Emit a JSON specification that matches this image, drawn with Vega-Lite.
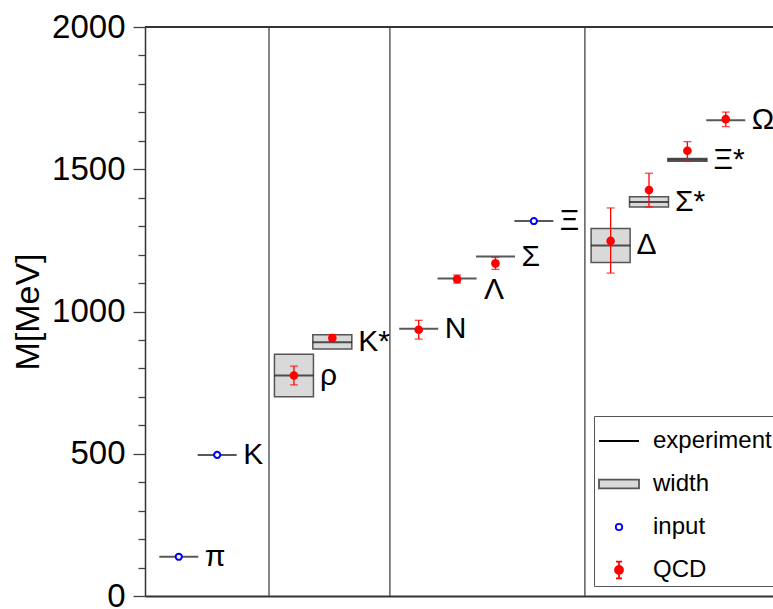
{
  "$schema": "https://vega.github.io/schema/vega-lite/v6.json",
  "width": 628,
  "height": 569,
  "autosize": {"type": "none"},
  "padding": {"left": 145, "top": 27, "right": 0, "bottom": 13},
  "background": "white",
  "config": {
    "view": {"stroke": null},
    "font": "Liberation Sans",
    "axisX": {"labels": false, "ticks": false, "grid": false, "domainColor": "#333333", "domainWidth": 2, "orient": "bottom"},
    "axisY": {
      "grid": false,
      "labelExpr": "datum.value % 500 === 0 ? datum.label : ''",
      "tickSize": {"condition": {"test": "datum.value % 500 === 0", "value": 12}, "value": 7},
      "tickColor": "#444444", "tickWidth": 1.3,
      "domainColor": "#333333", "domainWidth": 1.5,
      "labelFont": "Liberation Sans", "labelFontSize": 33, "labelColor": "black", "labelPadding": 8,
      "labelOverlap": false,
      "titleFont": "Liberation Sans", "titleFontSize": 34, "titleFontWeight": "normal", "titleColor": "black", "titlePadding": 6
    }
  },
  "datasets": {
    "particles": [
      {"name": "π", "x": 0.75, "exp": 138, "input": true},
      {"name": "K", "x": 1.75, "exp": 496, "input": true},
      {"name": "ρ", "x": 3.75, "exp": 775, "wlo": 700, "whi": 850, "qcd": 775, "qlo": 742, "qhi": 808},
      {"name": "K*", "x": 4.75, "exp": 892, "wlo": 868, "whi": 918, "qcd": 907, "qlo": 895, "qhi": 919},
      {"name": "N", "x": 7, "exp": 939, "qcd": 936, "qlo": 903, "qhi": 969},
      {"name": "Λ", "x": 8, "exp": 1116, "qcd": 1114, "qlo": 1100, "qhi": 1128},
      {"name": "Σ", "x": 9, "exp": 1193, "qcd": 1169, "qlo": 1148, "qhi": 1190},
      {"name": "Ξ", "x": 10, "exp": 1318, "input": true},
      {"name": "Δ", "x": 12, "exp": 1232, "wlo": 1172, "whi": 1292, "qcd": 1248, "qlo": 1135, "qhi": 1364},
      {"name": "Σ*", "x": 13, "exp": 1385, "wlo": 1367, "whi": 1403, "qcd": 1427, "qlo": 1368, "qhi": 1486},
      {"name": "Ξ*", "x": 14, "exp": 1533, "wlo": 1528, "whi": 1538, "qcd": 1565, "qlo": 1533, "qhi": 1597},
      {"name": "Ω", "x": 15, "exp": 1672, "qcd": 1676, "qlo": 1650, "qhi": 1701}
    ],
    "dividers": [{"pos": 3.1}, {"pos": 6.25}, {"pos": 11.33}],
    "legend": [{"kind": "experiment"}, {"kind": "width"}, {"kind": "input"}, {"kind": "QCD"}]
  },
  "layer": [
    {
      "data": {"name": "dividers"},
      "mark": {"type": "rule", "color": "#444444", "strokeWidth": 1.3},
      "encoding": {
        "x": {"field": "pos", "type": "quantitative", "title": null,
          "scale": {"domain": [0, 16.1], "nice": false, "zero": false}}
      }
    },
    {
      "data": {"name": "dividers"},
      "mark": {"type": "rule", "color": "#333333", "strokeWidth": 1.5},
      "encoding": {
        "y": {"datum": 2000, "type": "quantitative", "title": "M[MeV]",
          "scale": {"domain": [0, 2000], "nice": false, "zero": false},
          "axis": {"values": [0,100,200,300,400,500,600,700,800,900,1000,1100,1200,1300,1400,1500,1600,1700,1800,1900,2000], "format": "d"}}
      }
    },
    {
      "data": {"name": "particles"},
      "transform": [{"filter": "isValid(datum.wlo)"}],
      "mark": {"type": "bar", "orient": "vertical", "width": 39, "fill": "#d9d9d9", "stroke": "#555555", "strokeWidth": 1.5},
      "encoding": {
        "x": {"field": "x", "type": "quantitative", "title": null},
        "y": {"field": "wlo", "type": "quantitative", "title": "M[MeV]",
          "axis": {"values": [0,100,200,300,400,500,600,700,800,900,1000,1100,1200,1300,1400,1500,1600,1700,1800,1900,2000], "format": "d"}},
        "y2": {"field": "whi"}
      }
    },
    {
      "data": {"name": "particles"},
      "mark": {"type": "tick", "orient": "horizontal", "size": 39, "thickness": 2, "color": "#111111"},
      "encoding": {
        "x": {"field": "x", "type": "quantitative", "title": null},
        "y": {"field": "exp", "type": "quantitative", "title": "M[MeV]",
          "axis": {"values": [0,100,200,300,400,500,600,700,800,900,1000,1100,1200,1300,1400,1500,1600,1700,1800,1900,2000], "format": "d"}}
      }
    },
    {
      "data": {"name": "particles"},
      "transform": [{"filter": "isValid(datum.qcd)"}],
      "mark": {"type": "rule", "color": "red", "strokeWidth": 1.3},
      "encoding": {
        "x": {"field": "x", "type": "quantitative", "title": null},
        "y": {"field": "qlo", "type": "quantitative", "title": "M[MeV]",
          "axis": {"values": [0,100,200,300,400,500,600,700,800,900,1000,1100,1200,1300,1400,1500,1600,1700,1800,1900,2000], "format": "d"}},
        "y2": {"field": "qhi"}
      }
    },
    {
      "data": {"name": "particles"},
      "transform": [{"filter": "isValid(datum.qcd)"}],
      "mark": {"type": "tick", "orient": "horizontal", "size": 8, "thickness": 1.3, "color": "red"},
      "encoding": {
        "x": {"field": "x", "type": "quantitative", "title": null},
        "y": {"field": "qlo", "type": "quantitative", "title": "M[MeV]",
          "axis": {"values": [0,100,200,300,400,500,600,700,800,900,1000,1100,1200,1300,1400,1500,1600,1700,1800,1900,2000], "format": "d"}}
      }
    },
    {
      "data": {"name": "particles"},
      "transform": [{"filter": "isValid(datum.qcd)"}],
      "mark": {"type": "tick", "orient": "horizontal", "size": 8, "thickness": 1.3, "color": "red"},
      "encoding": {
        "x": {"field": "x", "type": "quantitative", "title": null},
        "y": {"field": "qhi", "type": "quantitative", "title": "M[MeV]",
          "axis": {"values": [0,100,200,300,400,500,600,700,800,900,1000,1100,1200,1300,1400,1500,1600,1700,1800,1900,2000], "format": "d"}}
      }
    },
    {
      "data": {"name": "particles"},
      "transform": [{"filter": "isValid(datum.qcd)"}],
      "mark": {"type": "point", "shape": "circle", "filled": true, "color": "red", "size": 75, "opacity": 1},
      "encoding": {
        "x": {"field": "x", "type": "quantitative", "title": null},
        "y": {"field": "qcd", "type": "quantitative", "title": "M[MeV]",
          "axis": {"values": [0,100,200,300,400,500,600,700,800,900,1000,1100,1200,1300,1400,1500,1600,1700,1800,1900,2000], "format": "d"}}
      }
    },
    {
      "data": {"name": "particles"},
      "transform": [{"filter": "datum.input === true"}],
      "mark": {"type": "point", "shape": "circle", "filled": false, "stroke": "blue", "fill": "white", "strokeWidth": 2, "size": 38, "opacity": 1},
      "encoding": {
        "x": {"field": "x", "type": "quantitative", "title": null},
        "y": {"field": "exp", "type": "quantitative", "title": "M[MeV]",
          "axis": {"values": [0,100,200,300,400,500,600,700,800,900,1000,1100,1200,1300,1400,1500,1600,1700,1800,1900,2000], "format": "d"}}
      }
    },
    {
      "data": {"name": "particles"},
      "transform": [{"filter": "datum.name !== 'Λ'"}],
      "mark": {"type": "text", "align": "left", "baseline": "middle", "dx": 26, "font": "Liberation Sans", "fontSize": 30, "color": "black"},
      "encoding": {
        "x": {"field": "x", "type": "quantitative", "title": null},
        "y": {"field": "exp", "type": "quantitative", "title": "M[MeV]",
          "axis": {"values": [0,100,200,300,400,500,600,700,800,900,1000,1100,1200,1300,1400,1500,1600,1700,1800,1900,2000], "format": "d"}},
        "text": {"field": "name"}
      }
    },
    {
      "data": {"name": "particles"},
      "transform": [{"filter": "datum.name === 'Λ'"}],
      "mark": {"type": "text", "align": "left", "baseline": "middle", "dx": 27, "dy": 12, "font": "Liberation Sans", "fontSize": 30, "color": "black"},
      "encoding": {
        "x": {"field": "x", "type": "quantitative", "title": null},
        "y": {"field": "exp", "type": "quantitative", "title": "M[MeV]",
          "axis": {"values": [0,100,200,300,400,500,600,700,800,900,1000,1100,1200,1300,1400,1500,1600,1700,1800,1900,2000], "format": "d"}},
        "text": {"field": "name"}
      }
    },
    {
      "data": {"name": "legend"},
      "mark": {"type": "point", "clip": true, "filled": true, "strokeWidth": 1.8, "opacity": 1},
      "encoding": {
        "x": {"datum": 1, "type": "quantitative", "title": null},
        "y": {"datum": -1000, "type": "quantitative", "title": "M[MeV]",
          "axis": {"values": [0,100,200,300,400,500,600,700,800,900,1000,1100,1200,1300,1400,1500,1600,1700,1800,1900,2000], "format": "d"}},
        "shape": {"field": "kind", "type": "nominal",
          "scale": {"domain": ["experiment", "width", "input", "QCD"],
            "range": ["M-1,0H1", "M-1,-0.22H1V0.22H-1Z", "M-0.16,0A0.16,0.16 0 1,0 0.16,0A0.16,0.16 0 1,0 -0.16,0Z", "M-0.2,0A0.2,0.2 0 1,0 0.2,0A0.2,0.2 0 1,0 -0.2,0Z M0,-0.42V0.42 M-0.15,-0.42H0.15 M-0.15,0.42H0.15"]},
          "legend": {"title": null, "orient": "none", "legendX": 449, "legendY": 389, "padding": 4, "rowPadding": 10,
            "strokeColor": "#555555", "fillColor": "white", "symbolSize": 1600, "symbolStrokeWidth": 1.8,
            "labelFont": "Liberation Sans", "labelFontSize": 24, "labelColor": "black", "labelOffset": 13, "labelLimit": 300}},
        "fill": {"field": "kind", "type": "nominal",
          "scale": {"domain": ["experiment", "width", "input", "QCD"], "range": ["transparent", "#d9d9d9", "white", "red"]},
          "legend": {"title": null, "orient": "none", "legendX": 449, "legendY": 389, "padding": 4, "rowPadding": 10,
            "strokeColor": "#555555", "fillColor": "white", "symbolSize": 1600, "symbolStrokeWidth": 1.8,
            "labelFont": "Liberation Sans", "labelFontSize": 24, "labelColor": "black", "labelOffset": 13, "labelLimit": 300}},
        "stroke": {"field": "kind", "type": "nominal",
          "scale": {"domain": ["experiment", "width", "input", "QCD"], "range": ["black", "#555555", "blue", "red"]},
          "legend": {"title": null, "orient": "none", "legendX": 449, "legendY": 389, "padding": 4, "rowPadding": 10,
            "strokeColor": "#555555", "fillColor": "white", "symbolSize": 1600, "symbolStrokeWidth": 1.8,
            "labelFont": "Liberation Sans", "labelFontSize": 24, "labelColor": "black", "labelOffset": 13, "labelLimit": 300}}
      }
    }
  ]
}
